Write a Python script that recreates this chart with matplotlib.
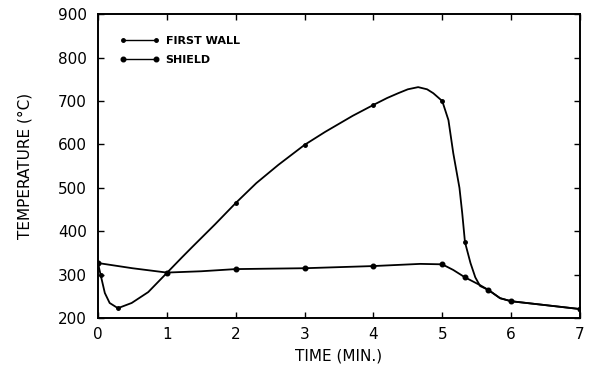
import matplotlib.pyplot as plt

# values
wall_t = [0, 0.04, 0.10, 0.17, 0.29, 0.49, 0.73, 1.0, 1.22, 1.37, 1.7, 2.0, 2.3, 2.62, 3.0, 3.3, 3.7, 4.0,
          4.2, 4.36, 4.5, 4.65, 4.78, 4.87, 5.0, 5.09, 5.16, 5.25, 5.29, 5.33, 5.41, 5.48, 5.55, 5.67, 5.84, 6.0, 7.0]
wall_y = [327, 299, 258, 235, 223, 235, 260, 304, 340, 364, 416, 465, 511, 553, 599, 629, 666, 691,
          707, 718, 727, 732, 727, 718, 700, 656, 580, 500, 442, 375, 327, 294, 274, 265, 246, 239, 221]
wall_mt = [0.04, 0.29, 1.0, 2.0, 3.0, 4.0, 5.0, 5.33, 5.67, 6.0, 7.0]
wall_my = [299, 223, 304, 465, 599, 691, 700, 375, 265, 239, 221]

shield_t = [0, 0.5, 1.0, 1.5, 2.0, 3.0, 4.0, 4.68, 5.0, 5.16, 5.33, 5.55, 5.67, 5.84, 6.0, 7.0]
shield_y = [327, 315, 305, 308, 313, 315, 320, 325, 324, 311, 294, 276, 265, 246, 239, 221]
shield_mt = [0, 1.0, 2.0, 3.0, 4.0, 5.0, 5.33, 5.67, 6.0, 7.0]
shield_my = [327, 304, 313, 315, 320, 324, 294, 265, 239, 221]

xticks = [0, 1, 2, 3, 4, 5, 6, 7]
yticks = [200, 300, 400, 500, 600, 700, 800, 900]

fig = plt.figure(figsize=(5.9, 3.73), dpi=100)
ax = fig.add_axes([0.166, 0.147, 0.817, 0.815])

ax.plot(wall_t, wall_y, color='black', lw=1.3)
ax.plot(wall_mt, wall_my, 'o', color='black', ms=2.5)
ax.plot(shield_t, shield_y, color='black', lw=1.3)
ax.plot(shield_mt, shield_my, 'o', color='black', ms=3.3)

# legend handles: line with a dot at each end
h1, = ax.plot([], [], '-', marker='o', color='black', lw=1.0, ms=2.5)
h2, = ax.plot([], [], '-', marker='o', color='black', lw=1.0, ms=3.3)
ax.legend([h1, h2], ['FIRST WALL', 'SHIELD'], loc='upper left',
          bbox_to_anchor=(0.025, 0.96), frameon=False, numpoints=2,
          handlelength=3.5, handletextpad=0.6, labelspacing=0.75,
          prop={'weight': 'bold', 'size': 8})

ax.set_xlim(0, 7)
ax.set_ylim(200, 900)
ax.set_xticks(xticks)
ax.set_yticks(yticks)
ax.tick_params(direction='in', length=4, width=1, top=True, right=True, labelsize=11)
ax.tick_params(axis='y', pad=8)
ax.tick_params(axis='x', pad=6)
for s in ax.spines.values():
    s.set_linewidth(1.4)

ax.set_xlabel('TIME (MIN.)', fontsize=11, labelpad=5)
ax.set_ylabel('TEMPERATURE (°C)', fontsize=11, labelpad=18)

fig.savefig('out.png', dpi=100)
